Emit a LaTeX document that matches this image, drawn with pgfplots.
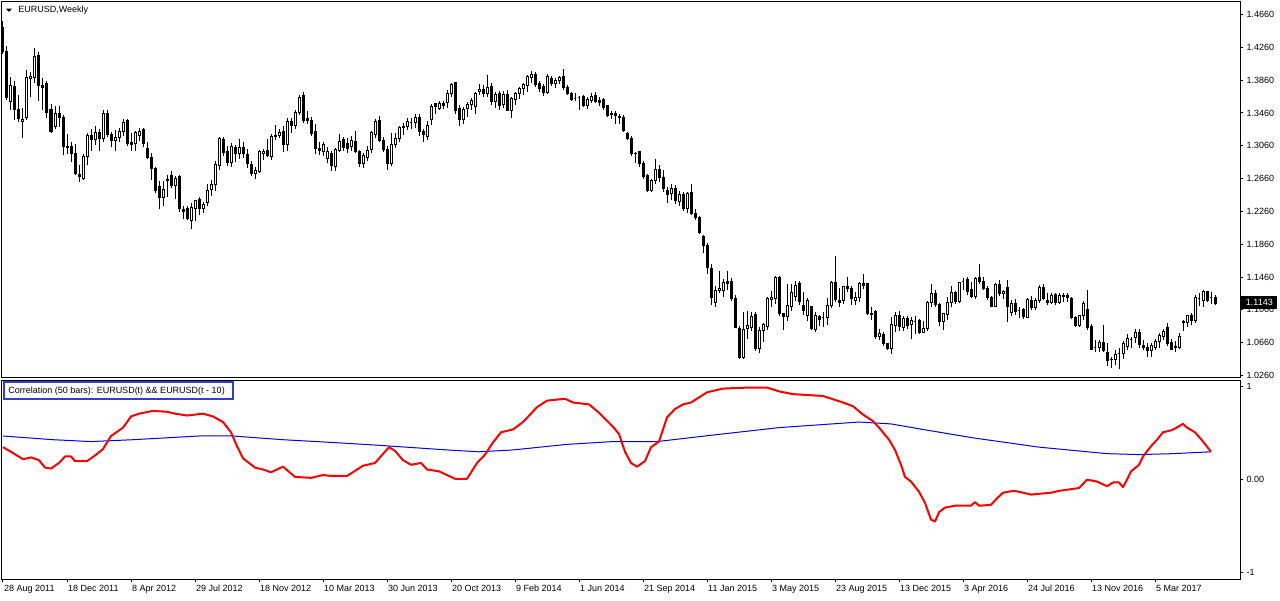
\documentclass[border=0pt]{standalone}
\usepackage{pgfplots}
\pgfplotsset{compat=1.18}
\usepackage{pgfplotstable}
\usepackage{fontspec}
\setmainfont{Liberation Sans}
\definecolor{boxblue}{RGB}{45,65,205}
\definecolor{corrblue}{RGB}{0,0,225}
\newcommand{\tf}{\fontsize{4.5}{5.4}\selectfont}

\pgfplotstableread{
i o h l c
0 1.450 1.458 1.418 1.421
1 1.421 1.427 1.362 1.365
2 1.360 1.390 1.350 1.380
3 1.378 1.385 1.338 1.350
4 1.350 1.368 1.335 1.339
5 1.336 1.352 1.315 1.338
6 1.340 1.398 1.338 1.389
7 1.388 1.396 1.365 1.390
8 1.389 1.425 1.383 1.415
9 1.416 1.420 1.361 1.380
10 1.380 1.389 1.349 1.377
11 1.382 1.385 1.340 1.347
12 1.350 1.357 1.321 1.324
13 1.330 1.355 1.327 1.345
14 1.345 1.355 1.329 1.340
15 1.340 1.343 1.295 1.305
16 1.305 1.320 1.296 1.304
17 1.305 1.310 1.286 1.296
18 1.296 1.308 1.270 1.272
19 1.271 1.282 1.262 1.268
20 1.266 1.296 1.264 1.293
21 1.293 1.322 1.282 1.318
22 1.318 1.326 1.300 1.314
23 1.314 1.330 1.307 1.322
24 1.322 1.327 1.300 1.315
25 1.315 1.349 1.310 1.345
26 1.345 1.349 1.317 1.320
27 1.320 1.323 1.305 1.312
28 1.312 1.325 1.300 1.316
29 1.316 1.328 1.310 1.324
30 1.324 1.339 1.318 1.334
31 1.337 1.339 1.306 1.309
32 1.310 1.322 1.300 1.308
33 1.309 1.324 1.300 1.322
34 1.318 1.328 1.312 1.324
35 1.326 1.328 1.304 1.309
36 1.303 1.311 1.290 1.292
37 1.292 1.297 1.264 1.278
38 1.278 1.280 1.249 1.252
39 1.256 1.263 1.229 1.243
40 1.243 1.263 1.233 1.253
41 1.265 1.270 1.244 1.264
42 1.270 1.275 1.254 1.258
43 1.257 1.269 1.241 1.266
44 1.269 1.270 1.225 1.229
45 1.228 1.233 1.217 1.226
46 1.229 1.232 1.215 1.217
47 1.215 1.236 1.204 1.231
48 1.230 1.240 1.214 1.239
49 1.240 1.244 1.222 1.230
50 1.230 1.237 1.224 1.234
51 1.237 1.259 1.232 1.252
52 1.253 1.264 1.245 1.259
53 1.259 1.287 1.251 1.283
54 1.282 1.317 1.277 1.315
55 1.314 1.317 1.294 1.298
56 1.299 1.306 1.281 1.286
57 1.286 1.309 1.280 1.305
58 1.304 1.307 1.286 1.297
59 1.297 1.314 1.290 1.304
60 1.304 1.310 1.291 1.296
61 1.295 1.302 1.279 1.285
62 1.283 1.287 1.269 1.272
63 1.272 1.280 1.266 1.276
64 1.275 1.301 1.273 1.299
65 1.297 1.302 1.289 1.299
66 1.300 1.314 1.292 1.294
67 1.293 1.320 1.289 1.317
68 1.317 1.331 1.313 1.319
69 1.319 1.326 1.316 1.322
70 1.323 1.330 1.299 1.307
71 1.307 1.340 1.300 1.336
72 1.336 1.340 1.321 1.331
73 1.331 1.349 1.326 1.346
74 1.347 1.368 1.343 1.365
75 1.367 1.371 1.334 1.337
76 1.339 1.348 1.332 1.337
77 1.337 1.341 1.318 1.321
78 1.324 1.332 1.296 1.303
79 1.303 1.310 1.295 1.300
80 1.299 1.311 1.294 1.308
81 1.291 1.305 1.285 1.299
82 1.296 1.300 1.275 1.282
83 1.281 1.303 1.275 1.301
84 1.300 1.320 1.299 1.311
85 1.314 1.317 1.300 1.304
86 1.309 1.316 1.297 1.303
87 1.305 1.318 1.300 1.312
88 1.311 1.324 1.297 1.299
89 1.299 1.301 1.280 1.284
90 1.285 1.297 1.279 1.294
91 1.292 1.306 1.287 1.300
92 1.301 1.324 1.297 1.322
93 1.320 1.339 1.316 1.336
94 1.337 1.342 1.310 1.312
95 1.312 1.317 1.298 1.302
96 1.302 1.306 1.276 1.284
97 1.284 1.321 1.281 1.308
98 1.307 1.321 1.303 1.315
99 1.315 1.330 1.310 1.328
100 1.328 1.334 1.319 1.330
101 1.330 1.340 1.325 1.335
102 1.334 1.340 1.326 1.334
103 1.334 1.345 1.328 1.340
104 1.341 1.345 1.318 1.324
105 1.323 1.327 1.311 1.320
106 1.317 1.336 1.313 1.331
107 1.338 1.357 1.331 1.354
108 1.357 1.358 1.345 1.354
109 1.351 1.361 1.349 1.357
110 1.357 1.361 1.351 1.355
111 1.359 1.374 1.352 1.370
112 1.370 1.383 1.366 1.381
113 1.383 1.384 1.345 1.349
114 1.351 1.356 1.330 1.338
115 1.338 1.353 1.332 1.350
116 1.351 1.359 1.341 1.356
117 1.356 1.364 1.349 1.361
118 1.354 1.371 1.345 1.370
119 1.372 1.381 1.368 1.375
120 1.375 1.380 1.365 1.370
121 1.370 1.392 1.365 1.377
122 1.378 1.382 1.356 1.360
123 1.360 1.372 1.352 1.369
124 1.370 1.373 1.350 1.355
125 1.356 1.373 1.352 1.369
126 1.368 1.374 1.348 1.349
127 1.349 1.366 1.340 1.364
128 1.363 1.372 1.356 1.370
129 1.370 1.378 1.363 1.376
130 1.376 1.383 1.368 1.381
131 1.379 1.392 1.372 1.390
132 1.389 1.397 1.382 1.393
133 1.393 1.396 1.378 1.381
134 1.382 1.385 1.371 1.376
135 1.378 1.381 1.367 1.371
136 1.371 1.393 1.369 1.390
137 1.388 1.391 1.379 1.382
138 1.382 1.388 1.376 1.386
139 1.386 1.391 1.381 1.389
140 1.390 1.400 1.374 1.377
141 1.377 1.380 1.368 1.370
142 1.370 1.372 1.361 1.363
143 1.364 1.370 1.360 1.364
144 1.365 1.367 1.350 1.365
145 1.366 1.368 1.353 1.355
146 1.355 1.365 1.351 1.362
147 1.361 1.370 1.358 1.366
148 1.367 1.372 1.358 1.360
149 1.361 1.366 1.355 1.359
150 1.362 1.364 1.350 1.353
151 1.355 1.356 1.341 1.343
152 1.345 1.348 1.339 1.344
153 1.345 1.348 1.333 1.343
154 1.342 1.345 1.333 1.341
155 1.341 1.343 1.323 1.325
156 1.321 1.323 1.313 1.315
157 1.315 1.318 1.293 1.297
158 1.297 1.299 1.285 1.296
159 1.299 1.300 1.280 1.284
160 1.284 1.287 1.266 1.268
161 1.270 1.271 1.250 1.252
162 1.252 1.266 1.250 1.264
163 1.264 1.290 1.259 1.277
164 1.277 1.283 1.262 1.267
165 1.267 1.276 1.250 1.254
166 1.252 1.256 1.236 1.247
167 1.248 1.260 1.240 1.254
168 1.254 1.258 1.235 1.239
169 1.238 1.251 1.233 1.246
170 1.246 1.250 1.226 1.230
171 1.229 1.250 1.224 1.248
172 1.249 1.259 1.222 1.223
173 1.223 1.229 1.215 1.218
174 1.218 1.221 1.198 1.200
175 1.196 1.197 1.175 1.184
176 1.185 1.188 1.150 1.158
177 1.156 1.162 1.112 1.121
178 1.115 1.135 1.110 1.129
179 1.130 1.153 1.126 1.132
180 1.129 1.144 1.122 1.139
181 1.141 1.153 1.130 1.138
182 1.141 1.145 1.117 1.120
183 1.120 1.124 1.084 1.085
184 1.083 1.086 1.046 1.048
185 1.048 1.104 1.046 1.082
186 1.083 1.105 1.070 1.087
187 1.084 1.104 1.080 1.098
188 1.100 1.104 1.056 1.059
189 1.059 1.085 1.053 1.081
190 1.081 1.090 1.067 1.088
191 1.086 1.122 1.081 1.120
192 1.119 1.129 1.109 1.121
193 1.120 1.147 1.113 1.146
194 1.146 1.147 1.098 1.101
195 1.101 1.102 1.082 1.098
196 1.098 1.138 1.093 1.111
197 1.110 1.138 1.105 1.127
198 1.122 1.141 1.117 1.136
199 1.138 1.141 1.112 1.116
200 1.111 1.128 1.100 1.105
201 1.099 1.121 1.093 1.117
202 1.110 1.111 1.081 1.083
203 1.082 1.104 1.079 1.099
204 1.098 1.100 1.086 1.094
205 1.097 1.103 1.085 1.097
206 1.097 1.120 1.087 1.111
207 1.111 1.141 1.108 1.139
208 1.139 1.172 1.115 1.119
209 1.117 1.133 1.110 1.115
210 1.117 1.135 1.113 1.134
211 1.134 1.146 1.128 1.132
212 1.132 1.135 1.112 1.120
213 1.117 1.128 1.112 1.121
214 1.121 1.140 1.116 1.138
215 1.138 1.150 1.131 1.136
216 1.138 1.139 1.100 1.102
217 1.102 1.110 1.094 1.100
218 1.104 1.106 1.071 1.074
219 1.073 1.083 1.069 1.077
220 1.076 1.079 1.062 1.065
221 1.065 1.066 1.057 1.059
222 1.059 1.097 1.052 1.088
223 1.087 1.104 1.079 1.099
224 1.099 1.105 1.080 1.086
225 1.085 1.099 1.080 1.095
226 1.095 1.099 1.083 1.087
227 1.088 1.097 1.071 1.093
228 1.092 1.098 1.077 1.092
229 1.093 1.095 1.077 1.079
230 1.079 1.093 1.078 1.083
231 1.083 1.117 1.080 1.115
232 1.115 1.138 1.110 1.126
233 1.126 1.130 1.110 1.113
234 1.113 1.114 1.086 1.092
235 1.092 1.102 1.082 1.101
236 1.100 1.122 1.094 1.115
237 1.115 1.135 1.110 1.127
238 1.127 1.129 1.113 1.116
239 1.116 1.140 1.114 1.139
240 1.140 1.145 1.130 1.140
241 1.143 1.146 1.124 1.128
242 1.131 1.140 1.120 1.122
243 1.122 1.146 1.119 1.144
244 1.146 1.162 1.138 1.140
245 1.140 1.146 1.130 1.132
246 1.132 1.135 1.118 1.121
247 1.121 1.123 1.109 1.110
248 1.110 1.139 1.109 1.137
249 1.137 1.142 1.123 1.126
250 1.126 1.130 1.119 1.128
251 1.133 1.142 1.091 1.110
252 1.103 1.118 1.099 1.114
253 1.114 1.119 1.100 1.104
254 1.105 1.110 1.096 1.105
255 1.106 1.108 1.095 1.098
256 1.097 1.120 1.096 1.119
257 1.118 1.123 1.106 1.109
258 1.109 1.120 1.106 1.117
259 1.117 1.136 1.114 1.133
260 1.133 1.137 1.118 1.120
261 1.118 1.127 1.112 1.115
262 1.115 1.127 1.113 1.123
263 1.125 1.127 1.112 1.115
264 1.115 1.126 1.113 1.124
265 1.122 1.127 1.116 1.124
266 1.124 1.127 1.116 1.121
267 1.120 1.122 1.095 1.097
268 1.097 1.099 1.085 1.087
269 1.087 1.100 1.085 1.099
270 1.099 1.117 1.094 1.114
271 1.107 1.130 1.082 1.085
272 1.086 1.089 1.057 1.058
273 1.060 1.069 1.055 1.060
274 1.060 1.069 1.055 1.066
275 1.066 1.088 1.055 1.056
276 1.054 1.065 1.037 1.044
277 1.046 1.049 1.035 1.045
278 1.046 1.057 1.039 1.052
279 1.053 1.060 1.034 1.053
280 1.053 1.068 1.046 1.065
281 1.061 1.077 1.057 1.071
282 1.070 1.073 1.059 1.070
283 1.072 1.083 1.066 1.078
284 1.079 1.083 1.060 1.064
285 1.063 1.069 1.057 1.060
286 1.060 1.065 1.049 1.056
287 1.056 1.066 1.049 1.062
288 1.060 1.071 1.057 1.068
289 1.068 1.078 1.060 1.075
290 1.074 1.083 1.069 1.080
291 1.084 1.090 1.062 1.065
292 1.066 1.070 1.057 1.058
293 1.061 1.068 1.055 1.060
294 1.060 1.078 1.058 1.073
295 1.092 1.094 1.080 1.090
296 1.090 1.100 1.085 1.099
297 1.099 1.102 1.088 1.093
298 1.093 1.124 1.090 1.121
299 1.120 1.126 1.111 1.120
300 1.118 1.130 1.110 1.128
301 1.128 1.129 1.115 1.118
302 1.121 1.128 1.113 1.121
303 1.121 1.124 1.112 1.114
}\ohlc

\pgfplotstableread{
i v
0 0.35
2 0.30
5 0.22
7 0.24
9 0.21
10.5 0.13
12 0.12
14 0.18
15.5 0.25
17 0.25
18 0.20
21 0.20
23 0.26
25 0.33
27 0.47
30 0.56
32 0.68
34 0.71
37.5 0.74
41 0.73
43 0.71
46 0.69
50 0.71
52.5 0.68
55 0.62
57 0.51
58.5 0.36
60 0.23
63 0.13
65 0.11
67 0.08
70 0.14
73 0.03
77 0.02
80 0.05
82 0.04
86 0.04
90 0.15
93 0.18
96.5 0.35
98 0.31
100 0.21
102 0.16
104.5 0.18
106 0.11
109 0.09
111 0.05
113 0.01
116 0.01
118.5 0.18
120.5 0.27
122.5 0.40
124.5 0.51
127.5 0.54
130 0.62
133.5 0.78
136 0.85
140.5 0.87
142.5 0.83
146.5 0.81
149 0.72
152.5 0.57
154 0.49
155.5 0.30
157 0.18
158.5 0.14
160.5 0.20
162 0.35
164 0.41
166 0.67
168 0.76
170 0.81
172 0.83
176 0.94
180 0.98
186 0.99
191 0.99
194 0.95
197.5 0.92
205 0.90
210 0.83
212.5 0.79
215 0.70
217.5 0.63
219 0.56
221.5 0.43
223 0.32
224.5 0.16
225.5 0.03
227 -0.02
229 -0.13
230.5 -0.25
232 -0.43
233 -0.45
234 -0.35
235.5 -0.30
238 -0.28
242 -0.28
243 -0.24
244 -0.28
247 -0.27
248.5 -0.20
250 -0.14
252.5 -0.12
254 -0.13
257 -0.16
262 -0.14
264 -0.12
269 -0.09
271 0.00
273.5 -0.02
276 -0.07
277.5 -0.03
279 -0.03
280 -0.08
281 0.00
282 0.09
284 0.16
285 0.25
287 0.36
288.5 0.43
290 0.51
292 0.53
293 0.55
295 0.60
296 0.56
298 0.51
300 0.41
302 0.30
}\corr

\pgfplotstableread{
i v
0 0.47
12.5 0.43
22 0.41
32.5 0.43
49 0.47
57.5 0.47
70 0.43
82.5 0.40
94 0.37
111 0.32
119 0.30
127.5 0.32
141 0.38
152.5 0.41
163.5 0.41
177.5 0.48
194 0.56
214 0.62
222 0.60
230 0.54
242.5 0.45
259 0.35
276 0.28
284 0.27
292.5 0.28
302 0.30
}\corravg

\pgfdeclareplotmark{candle}{%
  \pgfsetlinewidth{0.5pt}%
  \pgfsetstrokecolor{black}%
  \pgfpathmoveto{\pgfpoint{0pt}{\candL pt}}%
  \pgfpathlineto{\pgfpoint{0pt}{\candH pt}}%
  \pgfusepathqstroke
  \ifdim\candD pt<0pt\relax\pgfsetfillcolor{black}\else\pgfsetfillcolor{white}\fi
  \pgfpathrectangle{\pgfpoint{-0.5pt}{0pt}}{\pgfpoint{1pt}{\candD pt}}%
  \pgfusepathqfillstroke
}

\begin{document}
\begin{tikzpicture}
\path[use as bounding box] (0,0) rectangle (640pt,300pt);
\begin{axis}[
  at={(1pt,111pt)}, anchor=south west,
  scale only axis, width=619pt, height=188pt,
  xmin=-0.25, xmax=309.25, ymin=1.02295, ymax=1.48124,
  axis line style={black, line width=0.5pt},
  xtick=\empty,
  ytick={1.026,1.066,1.106,1.146,1.186,1.226,1.266,1.306,1.346,1.386,1.426,1.466},
  yticklabels={1.0260,1.0660,1.1060,1.1460,1.1860,1.2260,1.2660,1.3060,1.3460,1.3860,1.4260,1.4660},
  ytick pos=right, yticklabel pos=right,
  tick align=outside, major tick length=1.5pt,
  tick style={black, line width=0.5pt},
  yticklabel style={font=\tf, anchor=west, inner sep=0pt, xshift=1.6pt},
]
\addplot[scatter, only marks, mark=candle,
  scatter/@pre marker code/.code={},
  scatter/@post marker code/.code={},
  visualization depends on={(\thisrow{h}-\thisrow{o})*410.22 \as \candH},
  visualization depends on={(\thisrow{l}-\thisrow{o})*410.22 \as \candL},
  visualization depends on={(\thisrow{c}-\thisrow{o})*410.22 \as \candD},
] table[x=i, y=o] {\ohlc};
\fill[black] ([xshift=2pt,yshift=-3.3pt]rel axis cs:0,1) -- ([xshift=5pt,yshift=-3.3pt]rel axis cs:0,1) -- ([xshift=3.5pt,yshift=-5pt]rel axis cs:0,1) -- cycle;
\node[anchor=west, inner sep=0pt, font=\tf] at ([xshift=8pt,yshift=-4pt]rel axis cs:0,1) {EURUSD,Weekly};
\end{axis}
\begin{axis}[
  at={(1pt,10.5pt)}, anchor=south west,
  scale only axis, width=619pt, height=99.25pt,
  xmin=-0.25, xmax=309.25, ymin=-1.0678, ymax=1.0667,
  axis line style={black, line width=0.5pt},
  xtick={0,16,32,48,64,80,96,112,128,144,160,176,192,208,224,240,256,272,288},
  xticklabels={28 Aug 2011,18 Dec 2011,8 Apr 2012,29 Jul 2012,18 Nov 2012,10 Mar 2013,30 Jun 2013,20 Oct 2013,9 Feb 2014,1 Jun 2014,21 Sep 2014,11 Jan 2015,3 May 2015,23 Aug 2015,13 Dec 2015,3 Apr 2016,24 Jul 2016,13 Nov 2016,5 Mar 2017},
  xtick pos=bottom,
  xticklabel style={font=\tf, anchor=north west, inner sep=0pt, xshift=0.4pt, yshift=-1.5pt},
  ytick={-1,0,1},
  yticklabels={-1,0.00,1},
  ytick pos=right, yticklabel pos=right,
  tick align=outside, major tick length=1.5pt,
  tick style={black, line width=0.5pt},
  yticklabel style={font=\tf, anchor=west, inner sep=0pt, xshift=1.6pt},
]
\addplot[corrblue, line width=0.5pt] table[x=i, y=v] {\corravg};
\addplot[red, line width=1pt, line join=round] table[x=i, y=v] {\corr};
\draw[boxblue, line width=1pt, fill=white] ([xshift=1pt,yshift=-1pt]rel axis cs:0,1) rectangle ([xshift=115.5pt,yshift=-9.5pt]rel axis cs:0,1);
\node[anchor=west, inner sep=0pt, font=\tf] at ([xshift=3pt,yshift=-5.2pt]rel axis cs:0,1) {Correlation (50 bars): EURUSD(t) \&\& EURUSD(t - 10)};
\end{axis}
\node[fill=black, text=white, font=\tf, inner sep=0pt, minimum width=18pt, minimum height=6.5pt, anchor=west] at (620.5pt,148.6pt) {1.1143};
\end{tikzpicture}
\end{document}
